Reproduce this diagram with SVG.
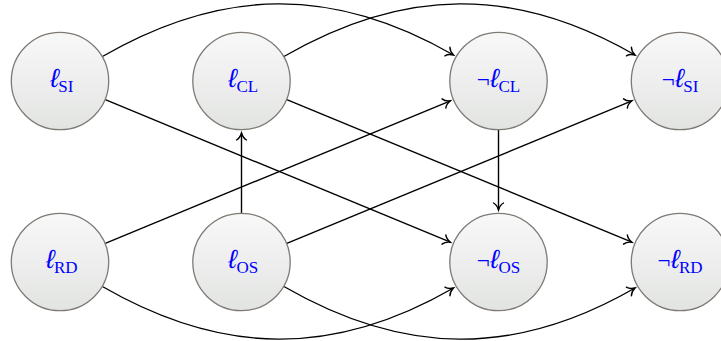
<svg xmlns="http://www.w3.org/2000/svg" width="721" height="341" viewBox="0 0 721 341">
<style>
.node circle{fill:url(#g);stroke:#7f7a75;stroke-width:1.3}
.node text{font-family:"Liberation Serif","DejaVu Serif",serif;font-size:23px;fill:#0000ff;text-anchor:middle}
.ell{font-family:"Liberation Mono","DejaVu Serif",monospace;font-style:italic;font-size:26px;letter-spacing:-4px}
.neg{letter-spacing:-3px}
.sub{font-size:17px}
.edges path{fill:none;stroke:#000;stroke-width:1.4;marker-end:url(#arr)}
</style>
<defs>
<linearGradient id="g" x1="0" y1="0" x2="0" y2="1">
<stop offset="0" stop-color="#f8f8f8"/>
<stop offset="1" stop-color="#e2e4e2"/>
</linearGradient>
<marker id="arr" markerUnits="userSpaceOnUse" markerWidth="16" markerHeight="16" viewBox="-9 -8 11 16" refX="0" refY="0" orient="auto" overflow="visible">
<path d="M-7,-5 C-5.5,-2.2 -2,-0.6 0,0 C-2,0.6 -5.5,2.2 -7,5" fill="none" stroke="#000" stroke-width="1.4" stroke-linecap="round"/>
</marker>
</defs>
<g class="edges">
<path d="M102.4,56.5 C222.3,-12.7 333.6,-14.2 453.5,55"/>
<path d="M283.9,56.5 C403.8,-12.7 515.1,-14.2 635,55"/>
<path d="M102.4,286.5 C222.3,355.7 333.6,357.2 453.5,288"/>
<path d="M283.9,286.5 C403.8,355.7 515.1,357.2 635,288"/>
<path d="M105.3,99.7 L450.4,242.2"/>
<path d="M286.8,99.7 L631.9,242.2"/>
<path d="M105.3,243.3 L450.4,100.8"/>
<path d="M286.8,243.3 L631.9,100.8"/>
<path d="M241.5,213 L241.5,133"/>
<path d="M498.5,130 L498.5,210"/>
</g>
<g id="lSI" class="node"><circle cx="60" cy="81" r="48.7"/><text x="60" y="87"><tspan class="ell">ℓ</tspan><tspan class="sub" dy="5">SI</tspan></text></g>
<g id="lCL" class="node"><circle cx="241.5" cy="81" r="48.7"/><text x="241.5" y="87"><tspan class="ell">ℓ</tspan><tspan class="sub" dy="5">CL</tspan></text></g>
<g id="nlCL" class="node"><circle cx="498.5" cy="81" r="48.7"/><text x="498.5" y="87"><tspan class="neg">¬</tspan><tspan class="ell">ℓ</tspan><tspan class="sub" dy="5">CL</tspan></text></g>
<g id="nlSI" class="node"><circle cx="680" cy="81" r="48.7"/><text x="680" y="87"><tspan class="neg">¬</tspan><tspan class="ell">ℓ</tspan><tspan class="sub" dy="5">SI</tspan></text></g>
<g id="lRD" class="node"><circle cx="60" cy="262" r="48.7"/><text x="60" y="268"><tspan class="ell">ℓ</tspan><tspan class="sub" dy="5">RD</tspan></text></g>
<g id="lOS" class="node"><circle cx="241.5" cy="262" r="48.7"/><text x="241.5" y="268"><tspan class="ell">ℓ</tspan><tspan class="sub" dy="5">OS</tspan></text></g>
<g id="nlOS" class="node"><circle cx="498.5" cy="262" r="48.7"/><text x="498.5" y="268"><tspan class="neg">¬</tspan><tspan class="ell">ℓ</tspan><tspan class="sub" dy="5">OS</tspan></text></g>
<g id="nlRD" class="node"><circle cx="680" cy="262" r="48.7"/><text x="680" y="268"><tspan class="neg">¬</tspan><tspan class="ell">ℓ</tspan><tspan class="sub" dy="5">RD</tspan></text></g>
</svg>
